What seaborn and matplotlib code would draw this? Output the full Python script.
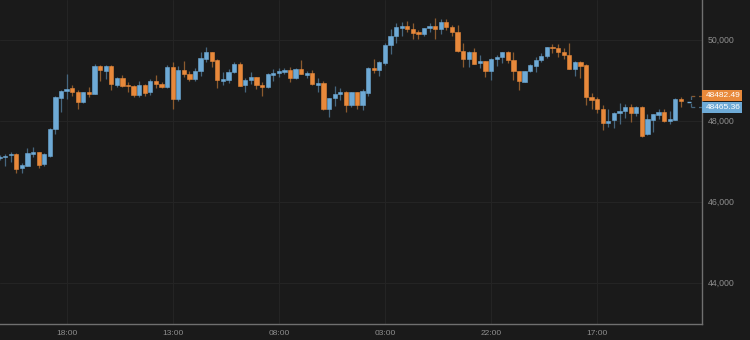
import numpy as np
import pandas as pd
import matplotlib
matplotlib.use("Agg")
import matplotlib.pyplot as plt
import matplotlib.transforms as mtrans
from matplotlib.patches import Rectangle
import seaborn as sns

# ---------------- data ----------------
opens = [47073, 47097, 47147, 47179, 46826, 46890, 47171, 47228, 46924, 47137,
         47803, 48561, 48742, 48801, 48702, 48455, 48702, 48668, 49352, 49228,
         49352, 48882, 49063, 48882, 48865, 48628, 48882, 48710, 48974, 48900,
         48840, 49319, 48529, 49253, 49154, 49031, 49228, 49532, 49704, 49507,
         48988, 49006, 49196, 49393, 48875, 48998, 49072, 48882, 48840, 49129,
         49171, 49203, 49253, 49048, 49270, 49129, 49171, 48882, 48924, 48282,
         48554, 48653, 48717, 48389, 48702, 48389, 48692, 49310, 49253, 49433,
         49863, 50100, 50297, 50339, 50265, 50198, 50149, 50297, 50339, 50258,
         50438, 50314, 50191, 49729, 49524, 49704, 49418, 49475, 49235, 49524,
         49581, 49690, 49500, 49235, 48964, 49221, 49352, 49500, 49591, 49803,
         49796, 49697, 49623, 49285, 49458, 49369, 48594, 48529, 48297, 47944,
         48011, 48184, 48240, 48347, 48198, 48347, 47665, 48018, 48149, 48208,
         48001, 48018, 48537]
highs = [47154, 47171, 47235, 47191, 46964, 47334, 47344, 47240, 47191, 47828,
         48611, 48751, 49146, 48882, 48759, 48717, 48840, 49401, 49364, 49369,
         49369, 49068, 49122, 48949, 48870, 48981, 48895, 49023, 49122, 48949,
         49376, 49443, 49359, 49475, 49228, 49302, 49704, 49821, 49709, 49512,
         49196, 49277, 49443, 49443, 49063, 49196, 49080, 48949, 49186, 49277,
         49310, 49310, 49327, 49295, 49500, 49235, 49253, 49055, 48981, 48561,
         48865, 48801, 48722, 48710, 48710, 48776, 49334, 49517, 49463, 49912,
         50265, 50421, 50431, 50463, 50421, 50240, 50297, 50406, 50544, 50512,
         50512, 50364, 50364, 49912, 49729, 49789, 49623, 49487, 49537, 49623,
         49697, 49722, 49704, 49240, 49228, 49393, 49581, 49665, 49828, 49887,
         49887, 49789, 49912, 49475, 49475, 49393, 48692, 48594, 48381, 48282,
         48208, 48431, 48413, 48406, 48364, 48356, 48159, 48166, 48290, 48282,
         48240, 48554, 48594]
lows = [47031, 46882, 46989, 46717, 46717, 46882, 47112, 46840, 46882, 47112,
        47665, 48208, 48537, 48618, 48290, 48445, 48594, 48660, 48981, 49038,
        48759, 48821, 48845, 48710, 48594, 48594, 48618, 48635, 48801, 48801,
        48801, 48297, 48495, 49072, 48988, 48988, 49105, 49443, 49334, 48816,
        48882, 48924, 49171, 48850, 48717, 48900, 48776, 48618, 48816, 48988,
        49087, 49154, 48949, 49031, 49146, 49063, 48875, 48717, 48265, 48085,
        48371, 48512, 48208, 48347, 48297, 48265, 48618, 49186, 49105, 49376,
        49648, 49912, 50100, 50198, 50018, 50018, 50100, 50198, 50018, 50141,
        50240, 50100, 49690, 49334, 49334, 49400, 49295, 49087, 49006, 49359,
        49418, 49418, 49006, 48759, 48956, 49211, 49196, 49458, 49542, 49665,
        49581, 49517, 49277, 49105, 49048, 48389, 48297, 48198, 47764, 47853,
        47828, 47912, 48060, 47969, 48117, 47606, 47655, 47729, 48043, 47976,
        47919, 48011, 48332]
closes = [47112, 47137, 47171, 46816, 46900, 47196, 47228, 46907, 47179, 47803,
          48579, 48742, 48791, 48702, 48455, 48702, 48653, 49359, 49245, 49352,
          48900, 49063, 48858, 48858, 48628, 48882, 48692, 48974, 48900, 48840,
          49334, 48529, 49253, 49154, 49031, 49228, 49542, 49704, 49482, 48998,
          49031, 49196, 49393, 48858, 49006, 49072, 48875, 48826, 49161, 49171,
          49228, 49253, 49048, 49270, 49154, 49171, 48900, 48924, 48282, 48554,
          48660, 48717, 48389, 48702, 48389, 48742, 49310, 49253, 49458, 49870,
          50100, 50307, 50347, 50258, 50174, 50149, 50282, 50347, 50258, 50445,
          50307, 50184, 49729, 49524, 49704, 49408, 49475, 49235, 49524, 49581,
          49690, 49500, 49221, 48974, 49221, 49376, 49500, 49591, 49821, 49788,
          49690, 49623, 49285, 49458, 49344, 48594, 48512, 48297, 47944, 48001,
          48184, 48240, 48347, 48198, 48347, 47623, 48035, 48159, 48208, 47994,
          48035, 48544, 48482.49]
last_prices = [48482.49, 48465.36]          # orange (last close), blue (current)
tick_labels = ["18:00", "13:00", "08:00", "03:00", "22:00", "17:00"]
ytick_values = [44000, 46000, 48000, 50000]

# ---------------- style ----------------
BG = "#1a1a1a"
UP_BODY, UP_WICK = "#6eaad6", "#46667e"
DN_BODY, DN_WICK = "#e8893b", "#8c5a2e"
TXT = "#8e8e8e"

sns.set_theme(style="dark", rc={"axes.facecolor": BG, "figure.facecolor": BG})
plt.rcParams["font.family"] = ["Liberation Sans", "DejaVu Sans"]

df = pd.DataFrame({"open": opens, "high": highs, "low": lows, "close": closes})
df["time"] = pd.date_range("2021-12-06 06:00", periods=len(df), freq="h")
df["idx"] = np.arange(len(df))
df["up"] = df["close"] >= df["open"]

fig = plt.figure(figsize=(7.5, 3.4), dpi=100, facecolor=BG)
ax = fig.add_axes([0, 16 / 340, 702 / 750, 324 / 340])
ax.set_facecolor(BG)

ymin, ymax = 42981, 50981
ax.set_xlim(0.08, 125.77)
ax.set_ylim(ymin, ymax)

# wicks
wick_cols = np.where(df["up"], UP_WICK, DN_WICK)
ax.vlines(df["idx"], df["low"], df["high"], colors=wick_cols, lw=0.9, zorder=2)

# bodies
body_cols = np.where(df["up"], UP_BODY, DN_BODY)
bottoms = np.minimum(df["open"], df["close"])
heights = np.maximum(np.abs(df["close"] - df["open"]), 25)
ax.bar(df["idx"], heights, bottom=bottoms, width=0.76, color=body_cols,
       edgecolor=body_cols, linewidth=0.4, zorder=3)

# current price tick
n = len(df)
ax.hlines(last_prices[1], n + 0.1, n + 0.75, colors=UP_BODY, lw=1.0, zorder=3)

# axes / ticks
tick_pos = list(range(12, n, 19))[:len(tick_labels)]
ax.set_xticks(tick_pos)
ax.set_xticklabels(tick_labels)
ax.yaxis.tick_right()
ax.set_yticks(ytick_values)
ax.set_yticklabels([f"{v:,.0f}" for v in ytick_values])
ax.tick_params(axis="x", length=0, pad=4, labelsize=6, colors=TXT)
ax.tick_params(axis="y", length=0, pad=4, labelsize=6.3, colors=TXT)
ax.grid(True, color="#242424", lw=0.8)
for s in ["left", "top"]:
    ax.spines[s].set_visible(False)
for s in ["right", "bottom"]:
    ax.spines[s].set_visible(True)
    ax.spines[s].set_color("#707070")
    ax.spines[s].set_linewidth(1.0)

# price labels on the right axis
px_per_unit = 324 / (ymax - ymin)
box_h = 11 / px_per_unit
tr = mtrans.blended_transform_factory(ax.transAxes, ax.transData)
box_w = 40 / 702
boxes = [(last_prices[0], last_prices[0] + box_h, DN_BODY),
         (last_prices[1] - box_h, last_prices[1], UP_BODY)]
for (y0, y1, col), price in zip(boxes, last_prices):
    ax.add_patch(Rectangle((1.0, y0), box_w, y1 - y0, transform=tr,
                           facecolor=col, edgecolor="none", clip_on=False, zorder=5))
    ax.text(1.0 + 3.5 / 702, (y0 + y1) / 2, f"{price:.2f}", transform=tr,
            ha="left", va="center", color="white", fontsize=6, clip_on=False, zorder=6)

# dashed connectors
xb = n + 0.8
yo = last_prices[0] + box_h / 2
yb = last_prices[1] - box_h / 2
ax.hlines(yo, xb, 125.77, colors=DN_WICK, lw=0.9, linestyles=(0, (3, 3)), zorder=4)
ax.hlines(yb, xb, 125.77, colors=UP_WICK, lw=0.9, linestyles=(0, (3, 3)), zorder=4)
ax.vlines(xb, yb, yo, colors=UP_WICK, lw=0.9, linestyles=(0, (3, 3)), zorder=4)

fig.savefig("out.png", dpi=100, facecolor=BG)
